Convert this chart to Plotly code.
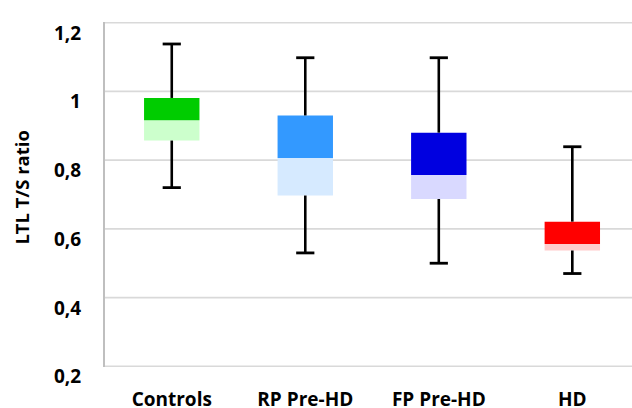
import plotly.graph_objects as go

categories = ["Controls", "RP Pre-HD", "FP Pre-HD", "HD"]
whisker_min = [0.72, 0.53, 0.50, 0.47]
q1 = [0.857, 0.697, 0.687, 0.537]
median = [0.916, 0.806, 0.757, 0.556]
q3 = [0.981, 0.930, 0.880, 0.621]
whisker_max = [1.138, 1.098, 1.098, 0.839]

upper_colors = ["#00CC00", "#3399FF", "#0000E0", "#FF0000"]
lower_colors = ["#CCFFCC", "#D6EAFF", "#D9D9FF", "#FFCCCC"]

y_tickvals = [0.2, 0.4, 0.6, 0.8, 1.0, 1.2]
y_ticktext = ["0,2", "0,4", "0,6", "0,8", "1", "1,2"]

FONT = "Open Sans"
xs = list(range(len(categories)))

fig = go.Figure()

# horizontal grid lines at every tick value
for v in y_tickvals:
    fig.add_shape(type="line", xref="paper", x0=0, x1=1, yref="y", y0=v, y1=v,
                  line=dict(color="#D9D9D9", width=1.8), layer="below")

fig.add_trace(go.Bar(
    x=xs, y=[m - a for m, a in zip(median, q1)], base=q1,
    marker=dict(color=lower_colors, line=dict(width=0)), width=0.415,
    hoverinfo="skip", showlegend=False))
fig.add_trace(go.Bar(
    x=xs, y=[b - m for b, m in zip(q3, median)], base=median,
    marker=dict(color=upper_colors, line=dict(width=0)), width=0.415,
    hoverinfo="skip", showlegend=False))

# whisker lines
wx, wy = [], []
for i in xs:
    wx += [i, i, None, i, i, None]
    wy += [q3[i], whisker_max[i], None, q1[i], whisker_min[i], None]
fig.add_trace(go.Scatter(x=wx, y=wy, mode="lines",
                         line=dict(color="black", width=2.6),
                         hoverinfo="skip", showlegend=False))
# caps
fig.add_trace(go.Scatter(x=xs + xs, y=whisker_max + whisker_min, mode="markers",
                         marker=dict(symbol="line-ew", size=13,
                                     line=dict(color="black", width=2.8)),
                         hoverinfo="skip", showlegend=False))

for v, t in zip(y_tickvals, y_ticktext):
    fig.add_annotation(x=0, xref="paper", y=v, yref="y", text=t,
                       showarrow=False, xanchor="right", yanchor="middle",
                       xshift=-22, yshift=-10,
                       font=dict(family=FONT, size=19, color="black", weight="bold"))

fig.add_annotation(x=0, xref="paper", y=0.52, yref="paper", text="LTL T/S ratio",
                   textangle=-90, showarrow=False, xanchor="center", yanchor="middle",
                   xshift=-83,
                   font=dict(family=FONT, size=18.5, color="black", weight="bold"))

fig.update_layout(
    width=632, height=408,
    margin=dict(l=105, r=0, t=22, b=41),
    paper_bgcolor="white", plot_bgcolor="white",
    barmode="overlay",
    separators=",.",
    xaxis=dict(range=[-0.5, 3.447], tickvals=xs, ticktext=categories,
               showgrid=False, zeroline=False, showline=False, ticks="",
               ticklabelstandoff=19, automargin=False,
               tickfont=dict(family=FONT, size=19, color="black", weight="bold")),
    yaxis=dict(range=[0.198, 1.202], tickvals=y_tickvals, showticklabels=False,
               showgrid=False, automargin=False,
               zeroline=False, showline=True, linecolor="#BFBFBF", linewidth=2,
               ticks=""),
)

fig.write_html("out.html", config={"displayModeBar": False},
               post_script="document.body.style.margin='0';document.body.style.padding='0';")
